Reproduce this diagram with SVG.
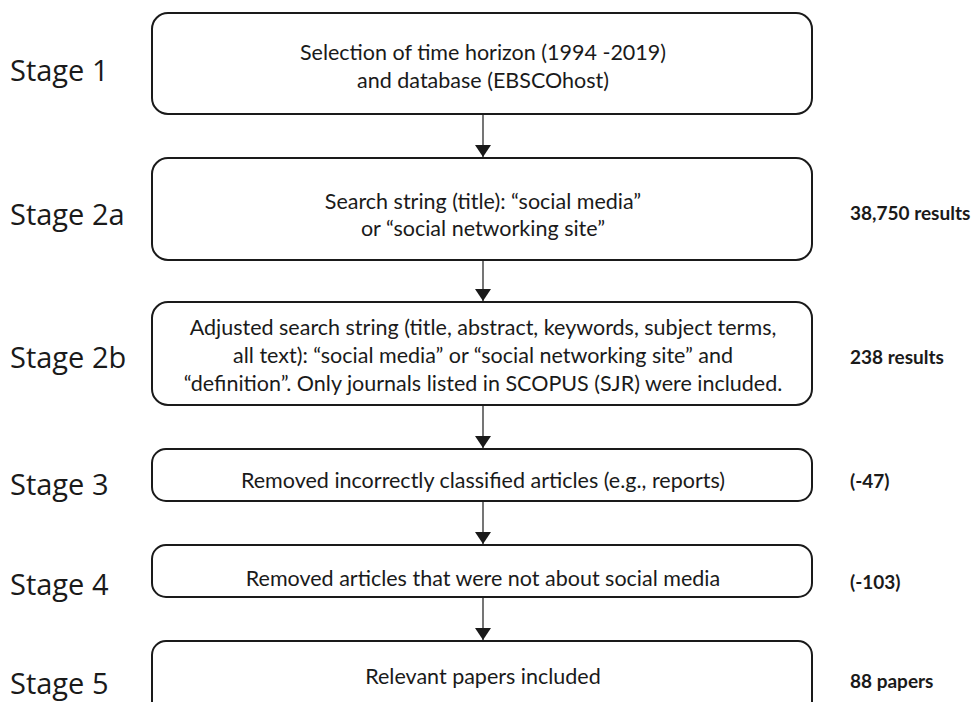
<svg xmlns="http://www.w3.org/2000/svg" width="974" height="702" viewBox="0 0 974 702">
<defs>
<marker id="ah" viewBox="0 0 12 16" refX="12" refY="8" markerWidth="12" markerHeight="16" markerUnits="userSpaceOnUse" orient="auto">
<path d="M0,0 L12,8 L0,16 Z" fill="#1a1a1a"/>
</marker>
<style>
.box{fill:#fff;stroke:#1a1a1a;stroke-width:2}
.t{font-family:Lato,"Open Sans",sans-serif;font-size:21.5px;fill:#1a1a1a;text-anchor:middle}
.st{font-family:"Open Sans",Lato,sans-serif;font-size:29px;fill:#1a1a1a}
.r{font-family:Lato,"Open Sans",sans-serif;font-size:19px;font-weight:bold;fill:#1a1a1a}
.c{stroke:#1a1a1a;stroke-width:1.2;fill:none}
</style>
</defs>
<rect width="974" height="702" fill="#fff"/>
<g id="connectors">
<line class="c" x1="483" y1="114" x2="483" y2="157" marker-end="url(#ah)"/>
<line class="c" x1="483" y1="260" x2="483" y2="301" marker-end="url(#ah)"/>
<line class="c" x1="483" y1="405" x2="483" y2="448" marker-end="url(#ah)"/>
<line class="c" x1="483" y1="501" x2="483" y2="544" marker-end="url(#ah)"/>
<line class="c" x1="483" y1="597" x2="483" y2="640" marker-end="url(#ah)"/>
</g>
<g id="stage1">
<text class="st" x="10" y="81">Stage 1</text>
<rect class="box" x="152" y="13" width="660" height="101" rx="16"/>
<text class="t" x="483" y="60">Selection of time horizon (1994 -2019)</text>
<text class="t" x="483" y="88">and database (EBSCOhost)</text>
</g>
<g id="stage2a">
<text class="st" x="10" y="225">Stage 2a</text>
<rect class="box" x="152" y="158" width="660" height="102" rx="16"/>
<text class="t" x="483" y="209">Search string (title): “social media”</text>
<text class="t" x="483" y="236">or “social networking site”</text>
<text class="r" x="850" y="220">38,750 results</text>
</g>
<g id="stage2b">
<text class="st" x="10" y="368">Stage 2b</text>
<rect class="box" x="152" y="302" width="660" height="103" rx="16"/>
<text class="t" x="483" y="335">Adjusted search string (title, abstract, keywords, subject terms,</text>
<text class="t" x="483" y="363">all text): “social media” or “social networking site” and</text>
<text class="t" x="483" y="391">“definition”. Only journals listed in SCOPUS (SJR) were included.</text>
<text class="r" x="850" y="364">238 results</text>
</g>
<g id="stage3">
<text class="st" x="10" y="495">Stage 3</text>
<rect class="box" x="152" y="449" width="660" height="52" rx="14"/>
<text class="t" x="483" y="488">Removed incorrectly classified articles (e.g., reports)</text>
<text class="r" x="850" y="488">(-47)</text>
</g>
<g id="stage4">
<text class="st" x="10" y="595">Stage 4</text>
<rect class="box" x="152" y="545" width="660" height="52" rx="14"/>
<text class="t" x="483" y="586">Removed articles that were not about social media</text>
<text class="r" x="850" y="589">(-103)</text>
</g>
<g id="stage5">
<text class="st" x="10" y="694">Stage 5</text>
<rect class="box" x="152" y="641" width="660" height="75" rx="14"/>
<text class="t" x="483" y="684">Relevant papers included</text>
<text class="r" x="850" y="688">88 papers</text>
</g>
</svg>
